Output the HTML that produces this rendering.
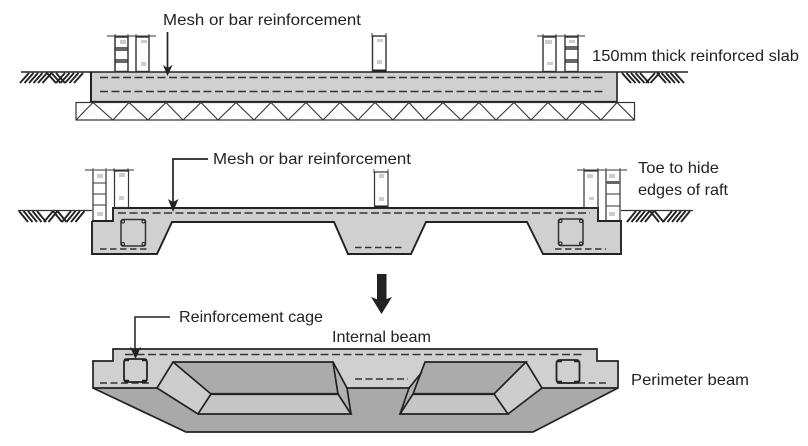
<!DOCTYPE html>
<html>
<head>
<meta charset="utf-8">
<style>
html,body{margin:0;padding:0;background:#fff;width:808px;height:446px;overflow:hidden}
svg{display:block;filter:blur(0.35px)}
text{font-family:"Liberation Sans",sans-serif;font-size:16px;fill:#222}
</style>
</head>
<body>
<svg width="808" height="446" viewBox="0 0 808 446" xmlns="http://www.w3.org/2000/svg">

<!-- TOP SECTION -->
<text x="163" y="25" textLength="198" lengthAdjust="spacingAndGlyphs">Mesh or bar reinforcement</text>
<text x="592" y="61" textLength="207" lengthAdjust="spacingAndGlyphs">150mm thick reinforced slab</text>

<!-- hatching, top -->
<g fill="none" stroke="#222" stroke-width="1.900">
<path d="M20,83l9,-10m-4.500,10l9,-10m-4.500,10l9,-10m-4.500,10l9,-10m-4.500,10l9,-10m-4.500,10l9,-10"/>
<path d="M47,73l9,10m-4.500,-10l9,10m-4.500,-10l9,10"/>
<path d="M56,83l9,-10m-4.500,10l9,-10m-4.500,10l9,-10m-4.500,10l9,-10m-4.500,10l9,-10"/>
<path d="M622,73l9,10m-4.500,-10l9,10m-4.500,-10l9,10m-4.500,-10l9,10m-4.500,-10l9,10"/>
<path d="M646,83l9,-10m-4.500,10l9,-10"/>
<path d="M657,73l9,10m-4.500,-10l9,10m-4.500,-10l9,10m-4.500,-10l9,10m-4.500,-10l9,10"/>
</g>

<rect x="91" y="72" width="526" height="30" fill="#d0d0d0"/>
<path d="M21,72H688M91,72V102H617V72" fill="none" stroke="#222" stroke-width="1.600"/>
<path d="M91,72V102" stroke="#222" stroke-width="2" fill="none"/>
<path d="M91,102H617" stroke="#222" stroke-width="2.200" fill="none"/>
<path d="M100,77.500H606M100,91.500H606" stroke="#333" stroke-width="1.500" stroke-dasharray="8,3.500" fill="none"/>

<rect x="76" y="102.500" width="558.500" height="17.500" fill="#fff" stroke="#333" stroke-width="1.200"/>
<polyline points="76,120 93,102.500 113,120 129,102.500 148,120 166,102.500 183,120 201,102.500 218,120 236,102.500 254,120 271,102.500 288,120 306,102.500 323,120 340,102.500 358,120 375,102.500 393,120 409,102.500 425,120 443,102.500 461,120 479,102.500 496,120 514,102.500 531,120 548,102.500 566,120 582,102.500 601,120 617,102.500 634.500,120" fill="none" stroke="#333" stroke-width="1.100"/>

<!-- top walls -->
<path d="M107,36H156M537,36H585" stroke="#333" stroke-width="0.900"/>
<g fill="none" stroke="#333" stroke-width="1.400">
<rect x="115" y="37" width="13" height="34.500" stroke-width="1.500"/>
<path d="M115,48H128M115,50H128M115,60H128M115,62H128"/>
<rect x="136" y="37" width="13" height="34.500"/>
<rect x="372.500" y="36" width="13.500" height="35.500"/>
<rect x="543" y="37" width="13" height="34.500"/>
<rect x="565" y="37" width="13" height="34.500"/>
<path d="M565,47H578M565,49H578M565,60H578M565,62H578"/>
</g>
<path d="M372,33V37M386,33V37M115,34V38M128,34V38M136,34V38M149,34V38M543,34V38M556,34V38M565,34V38M578,34V38" stroke="#333" stroke-width="0.900"/>
<rect x="372.500" y="69.500" width="13.500" height="2.500" fill="#222"/>
<g fill="#ccc"><rect x="120" y="40" width="6" height="4"/><rect x="141" y="40" width="6" height="3"/><rect x="141" y="62" width="5" height="4"/><rect x="377" y="39" width="6" height="3"/><rect x="377" y="60" width="5" height="4"/><rect x="545" y="40" width="7" height="4"/><rect x="547" y="62" width="6" height="3"/><rect x="569" y="40" width="6" height="3"/></g>

<!-- top arrow -->
<path d="M167.500,32V68" stroke="#222" stroke-width="1.700"/>
<polygon points="163,65 167.500,68 172.500,65 167.500,76" fill="#222"/>

<!-- MIDDLE SECTION -->
<text x="213" y="164" textLength="198" lengthAdjust="spacingAndGlyphs">Mesh or bar reinforcement</text>
<text x="638" y="173" textLength="81" lengthAdjust="spacingAndGlyphs">Toe to hide</text>
<text x="638" y="195" textLength="90" lengthAdjust="spacingAndGlyphs">edges of raft</text>

<!-- hatching, middle -->
<g fill="none" stroke="#222" stroke-width="1.900">
<path d="M19,211l9,11m-4.500,-11l9,11m-4.500,-11l9,11m-4.500,-11l9,11m-4.500,-11l9,11"/>
<path d="M44,222l9,-11m-4.500,11l9,-11"/>
<path d="M53,211l9,11m-4.500,-11l9,11"/>
<path d="M62,222l9,-11m-4.500,11l9,-11m-4.500,11l9,-11m-4.500,11l9,-11"/>
<path d="M627,222l9,-11m-4.500,11l9,-11m-4.500,11l9,-11m-4.500,11l9,-11m-4.500,11l9,-11"/>
<path d="M650,211l9,11m-4.500,-11l9,11"/>
<path d="M663,222l9,-11m-4.500,11l9,-11m-4.500,11l9,-11m-4.500,11l9,-11m-4.500,11l9,-11"/>
</g>
<path d="M18,210.500H92M621,210.500H693" stroke="#333" stroke-width="1.300"/>

<polygon points="113,208 598,208 598,221 621,221 621,254 543,254 527,222 426,222 411,254 348,254 334,222 172,222 157,254 92,254 92,221 113,221" fill="#d0d0d0"/>
<path d="M92,221H113V208H598V221H621V254H543L527,222H426L411,254H348L334,222H172L157,254H92V221" fill="none" stroke="#222" stroke-width="1.900"/>

<path d="M118,213H590" stroke="#333" stroke-width="1.400" stroke-dasharray="8,3.500" fill="none"/>
<path d="M100,249H150M355,247.500H404M555,249H606" stroke="#333" stroke-width="1.400" stroke-dasharray="6.500,3.500" fill="none"/>

<!-- cages mid -->
<g fill="none" stroke="#333" stroke-width="1.500">
<rect x="121" y="219.500" width="24.500" height="26.500" rx="2"/>
<rect x="558.500" y="219" width="24.500" height="26.500" rx="2"/>
</g>
<g fill="#d0d0d0" stroke="#222" stroke-width="1">
<circle cx="123" cy="221.500" r="1.500"/><circle cx="143.500" cy="221.500" r="1.500"/><circle cx="123" cy="244" r="1.500"/><circle cx="143.500" cy="244" r="1.500"/>
<circle cx="560.500" cy="221" r="1.500"/><circle cx="581" cy="221" r="1.500"/><circle cx="560.500" cy="243.500" r="1.500"/><circle cx="581" cy="243.500" r="1.500"/>
</g>

<!-- mid walls -->
<path d="M85,170H134M577,170H627" stroke="#333" stroke-width="0.900"/>
<g fill="none" stroke="#333" stroke-width="1.200">
<path d="M93,171V220M106,171V220"/>
<path d="M93,183H106M93,194H106M93,205H106" stroke-width="1"/>
<rect x="114.500" y="171" width="14" height="36.500"/>
<rect x="374.500" y="172" width="13.500" height="36"/>
<rect x="584" y="171" width="14" height="37"/>
<path d="M606,171V221M620,171V221"/>
<path d="M606,183H620M606,194H620M606,206H620" stroke-width="1"/>
</g>
<path d="M93,168V172M106,168V172M114,168V172M128,168V172M584,168V172M598,168V172M606,168V172M620,168V172M374,169V173M388,169V173" stroke="#333" stroke-width="0.800"/>
<rect x="606" y="181" width="14" height="3" fill="#666"/>
<rect x="374.500" y="205.500" width="13.500" height="2.500" fill="#222"/>
<g fill="#ccc"><rect x="97" y="174" width="6" height="4"/><rect x="97" y="212" width="6" height="4"/><rect x="119" y="173" width="6" height="4"/><rect x="119" y="196" width="5" height="4"/><rect x="379" y="174" width="5" height="4"/><rect x="379" y="197" width="5" height="4"/><rect x="587" y="174" width="6" height="4"/><rect x="589" y="197" width="5" height="3"/><rect x="609" y="174" width="6" height="4"/><rect x="609" y="212" width="6" height="4"/></g>

<!-- mid arrow -->
<path d="M208,159H173V203" fill="none" stroke="#222" stroke-width="1.700"/>
<polygon points="168,199 173,202 178.500,199 173,212" fill="#222"/>

<!-- BIG ARROW -->
<rect x="377" y="274" width="9.500" height="27" fill="#222"/>
<polygon points="371,297 381.500,301 392,297 381.500,314" fill="#222"/>

<!-- BOTTOM -->
<text x="179" y="322" textLength="144" lengthAdjust="spacingAndGlyphs">Reinforcement cage</text>
<text x="332" y="342" textLength="99" lengthAdjust="spacingAndGlyphs">Internal beam</text>
<text x="631" y="385" textLength="118" lengthAdjust="spacingAndGlyphs">Perimeter beam</text>

<polygon points="93,388 186,432 533,432 618,388" fill="#a9a9a9"/>
<polygon points="113,349 597,349 597,361 618,361 618,388 93,388 93,361 113,361" fill="#d0d0d0"/>
<polygon points="347,388 410,388 400,414 351,414" fill="#a9a9a9"/>

<!-- left recess -->
<polygon points="173,362 333,362 338,394 211,394" fill="#ababab"/>
<polygon points="211,394 338,394 351,414 198,414" fill="#c6c6c6"/>
<polygon points="157,388 173,362 211,394 198,414" fill="#cdcdcd"/>
<polygon points="333,362 347,388 351,414 338,394" fill="#b2b2b2"/>
<!-- right recess -->
<polygon points="425,362 526,362 494,394 413,394" fill="#ababab"/>
<polygon points="413,394 494,394 508,414 400,414" fill="#c6c6c6"/>
<polygon points="526,362 542,388 508,414 494,394" fill="#cdcdcd"/>
<polygon points="422,372 413,394 400,414 409,388" fill="#b2b2b2"/>

<g fill="none" stroke="#222" stroke-width="1.700" stroke-linejoin="miter">
<path d="M93,388V361H113V349H597V361H618V388L533,432H186Z"/>
<path d="M93,388H157L173,362H333L347,388H410"/>
<path d="M173,362L211,394L198,414L157,388"/>
<path d="M198,414H351L338,394H211" />
<path d="M333,362L338,394M347,388L351,414"/>
<path d="M542,388H618"/>
<path d="M413,394H494L526,362H425L413,394L400,414H508L494,394"/>
<path d="M526,362L542,388L508,414"/>
<path d="M422,372L409,388L400,414"/>
</g>
<path d="M211,394H338M413,394H494" stroke="#222" stroke-width="2.200"/>
<path d="M125,354.500H585" stroke="#333" stroke-width="1.500" stroke-dasharray="8,3.500" fill="none"/>
<path d="M100,383H152M355,379H408M557,383H608" stroke="#333" stroke-width="1.500" stroke-dasharray="7,3.500" fill="none"/>

<!-- cages bottom -->
<g fill="#d0d0d0" stroke="#222" stroke-width="1.800">
<rect x="124" y="359" width="23" height="23" rx="3"/>
<rect x="556.500" y="360" width="23" height="23" rx="3"/>
</g>
<path d="M124,360h5M147,360h-5M124,381h5M147,381h-5M557,361h5M579,361h-5M557,382h5M579,382h-5" stroke="#222" stroke-width="2.500"/>

<!-- reinforcement cage arrow -->
<path d="M170,317H135V350" fill="none" stroke="#222" stroke-width="1.500"/>
<polygon points="130,347 135.500,350 141,347 135.500,359" fill="#222"/>
</svg>
</body>
</html>
